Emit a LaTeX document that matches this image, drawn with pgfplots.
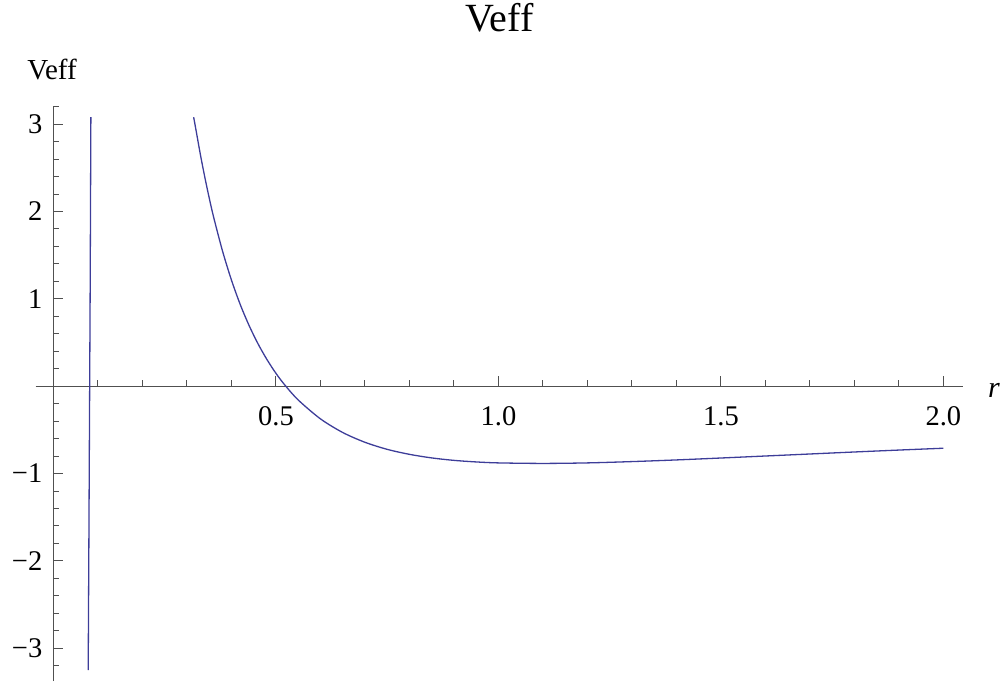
\documentclass[border=0pt]{standalone}
\usepackage{fontspec}
\setmainfont{Liberation Serif}
\usepackage{pgfplots}
\pgfplotsset{compat=1.18}
\definecolor{curve}{RGB}{61,61,153}
\definecolor{axgray}{RGB}{80,80,80}
\begin{document}
\begin{tikzpicture}
\useasboundingbox (0,0) rectangle (1003pt,681pt);
\begin{axis}[
  at={(35.7pt,0pt)}, anchor=south west,
  scale only axis, width=927.3pt, height=574.3pt,
  xmin=-0.04, xmax=2.044, ymin=-3.375, ymax=3.2,
  axis lines=middle,
  axis line style={-, axgray, line width=1.1pt},
  tick style={axgray, line width=1pt},
  tick align=inside,
  major tick length=10pt, minor tick length=6pt,
  xtick={0.5,1,1.5,2}, xticklabels={0.5,1.0,1.5,2.0},
  minor xtick={0.1,0.2,0.3,0.4,0.6,0.7,0.8,0.9,1.1,1.2,1.3,1.4,1.6,1.7,1.8,1.9},
  ytick={-3,-2,-1,1,2,3}, yticklabels={−3,−2,−1,1,2,3},
  minor ytick={-3.2,-2.8,-2.6,-2.4,-2.2,-1.8,-1.6,-1.4,-1.2,-0.8,-0.6,-0.4,-0.2,0.2,0.4,0.6,0.8,1.2,1.4,1.6,1.8,2.2,2.4,2.6,2.8,3.2},
  tick label style={font=\fontsize{28.5}{32}\selectfont},
  xticklabel style={anchor=north, inner sep=0pt, yshift=-20pt},
  yticklabel style={anchor=east, inner sep=0pt, xshift=-11pt},
  title={Veff},
  every axis title shift=0pt,
  title style={at={(0.5,1)}, anchor=base, inner sep=0pt, yshift=75pt, font=\fontsize{40}{48}\selectfont},
  ylabel={Veff},
  every axis y label/.style={at={(axis cs:0,3.2)}, anchor=base, inner sep=0pt, yshift=27pt, xshift=-1.5pt, font=\fontsize{29}{34}\selectfont},
  xlabel={\textit{r}},
  every axis x label/.style={at={(axis cs:2.044,0)}, anchor=base west, inner sep=0pt, xshift=25pt, yshift=-11pt, font=\fontsize{30}{34}\selectfont},
  clip=false,
]
\addplot[curve, line width=1.3pt] coordinates {
(0.0780,-3.25) (0.0795,-1.8) (0.0810,-0.3) (0.0825,1.2) (0.0840,3.08)
};
\addplot[curve, line width=1.3pt, smooth] coordinates {
(0.315,3.08) (0.32,2.940) (0.33,2.655) (0.34,2.394) (0.35,2.154) (0.36,1.933)
(0.38,1.545) (0.40,1.214) (0.42,0.931) (0.44,0.690) (0.46,0.482) (0.48,0.303)
(0.50,0.147) (0.52,0.013) (0.55,-0.158) (0.60,-0.374) (0.65,-0.530) (0.70,-0.642)
(0.75,-0.723) (0.80,-0.780) (0.85,-0.821) (0.90,-0.849) (0.95,-0.867) (1.00,-0.878)
(1.10,-0.884) (1.20,-0.878) (1.30,-0.863) (1.40,-0.844) (1.50,-0.822) (1.60,-0.799)
(1.70,-0.776) (1.80,-0.753) (1.90,-0.731) (2.00,-0.710)
};
\end{axis}
\end{tikzpicture}
\end{document}
